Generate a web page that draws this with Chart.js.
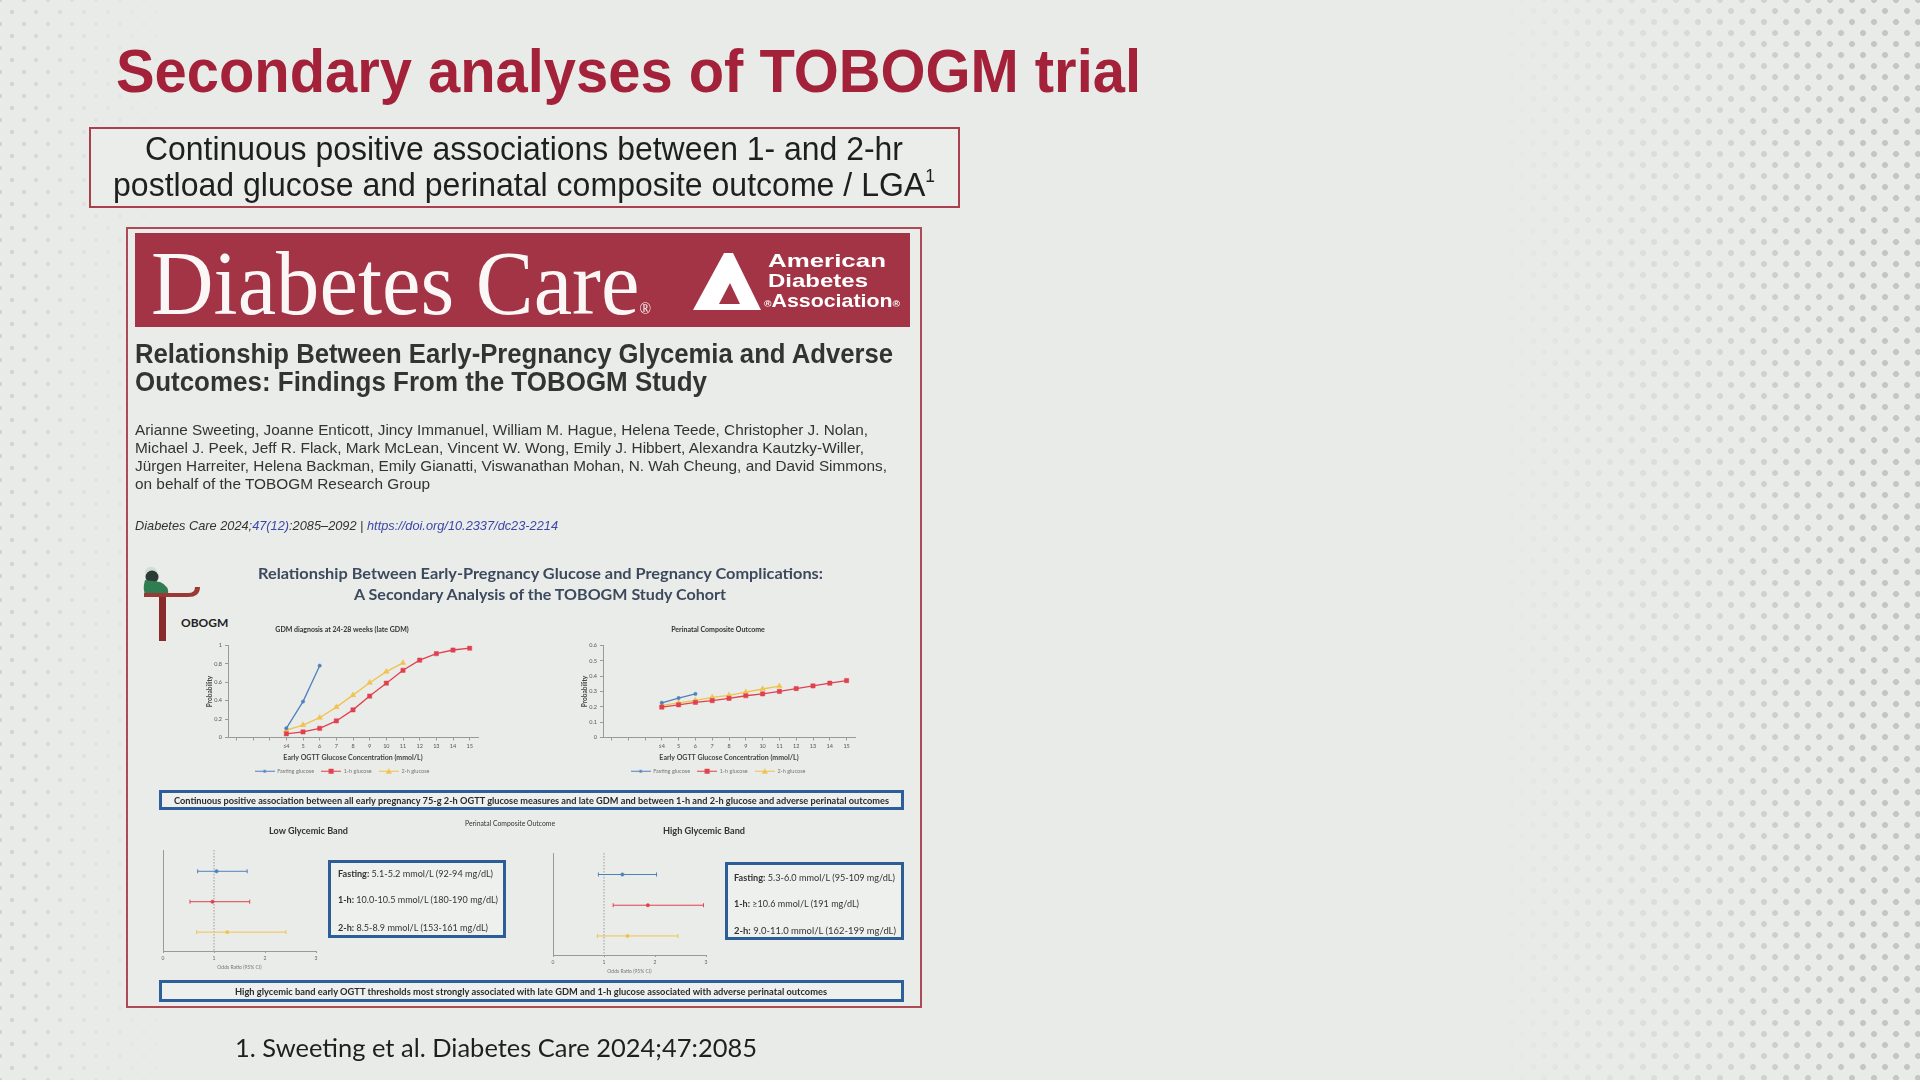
<!DOCTYPE html>
<html>
<head>
<meta charset="utf-8">
<script src="https://cdn.jsdelivr.net/npm/chart.js@4.4.1/dist/chart.umd.min.js"></script>
<style>
  html, body { margin: 0; padding: 0; }
  body { width: 1920px; height: 1080px; position: relative; overflow: hidden; background: #e8ebe7; font-family: "Liberation Sans", Arial, sans-serif; }
  .abs { position: absolute; white-space: nowrap; transform-origin: 0 50%; line-height: 1; }
  .dots { position: absolute; top: 0; height: 1080px; }
  #dotsL { left: 0; width: 170px;
    background-image: radial-gradient(circle, #c9ccc9 1.8px, transparent 2.4px), radial-gradient(circle, #c9ccc9 1.8px, transparent 2.4px);
    background-size: 24px 24px; background-position: 0 0, 12px 12px;
    -webkit-mask-image: linear-gradient(to right, rgba(0,0,0,0.8), rgba(0,0,0,0.2) 60%, transparent); mask-image: linear-gradient(to right, rgba(0,0,0,0.8), rgba(0,0,0,0.2) 60%, transparent); }
  #dotsR { left: 1500px; width: 420px;
    background-image: radial-gradient(circle, #c3c6c3 2.6px, transparent 3.2px), radial-gradient(circle, #c3c6c3 2.6px, transparent 3.2px);
    background-size: 22px 22px; background-position: 0 0, 11px 11px;
    -webkit-mask-image: linear-gradient(to right, transparent, rgba(0,0,0,0.45) 45%, #000 85%); mask-image: linear-gradient(to right, transparent, rgba(0,0,0,0.45) 45%, #000 85%); }
  #title { left: 116px; top: 41px; font-size: 61px; font-weight: bold; color: #a3223a; }
  #subBox { position: absolute; left: 89px; top: 127px; width: 871px; height: 81px; box-sizing: border-box; border: 2px solid #a8404d; background: #ebedea; }
  .sub { font-size: 33px; color: #1f1f1f; }
  #article { position: absolute; left: 126px; top: 227px; width: 796px; height: 781px; box-sizing: border-box; border: 2px solid #ae4a55; background: #eaece9; }
  #banner { position: absolute; left: 135px; top: 233px; width: 775px; height: 94px; background: #a33446; }
  #dcare { left: 151px; top: 238px; font-family: "Liberation Serif", "DejaVu Serif", serif; font-size: 91px; color: #fbf7f7; }
  .ada { font-size: 19px; font-weight: bold; color: #fff; }
  .atitle { font-size: 27px; font-weight: bold; color: #333; }
  .auth { font-size: 15px; color: #333; }
  .cite { font-size: 13px; font-style: italic; color: #333; }
  .blue { color: #3b47a8; }
  .gh { font-family: Lato, sans-serif; font-size: 15px; font-weight: bold; color: #3d4a5d; }
  .strip { position: absolute; left: 159px; width: 745px; box-sizing: border-box; border: 3px solid #2f5f9a; background: #eef0ee; }
  .stxt { font-family: Lato, sans-serif; font-size: 9px; font-weight: bold; color: #2a2a2a; }
  .small { font-family: Lato, sans-serif; color: #333; }
  .info { position: absolute; box-sizing: border-box; border: 3.5px solid #2d5d97; background: #eef0ee; }
  .itxt { font-family: Lato, sans-serif; font-size: 9px; color: #333; }
  canvas { position: absolute; }
  #ref { left: 235px; top: 1035px; font-family: Lato, "Open Sans", sans-serif; font-size: 25px; color: #1f1f1f; }
</style>
</head>
<body>
<div id="dotsL" class="dots"></div>
<div id="dotsR" class="dots"></div>

<div id="title" class="abs" data-w="1025">Secondary analyses of TOBOGM trial</div>

<div id="subBox"></div>
<div class="abs sub" style="top:132px" data-w="758" data-cx="524">Continuous positive associations between 1- and 2-hr</div>
<div class="abs sub" style="top:167px" data-w="822" data-cx="524">postload glucose and perinatal composite outcome / LGA<sup style="font-size:18px;vertical-align:14px">1</sup></div>

<div id="article"></div>
<div id="banner"></div>
<div id="dcare" class="abs" data-w="500">Diabetes Care<span style="font-size:16px;vertical-align:0">®</span></div>
<svg style="position:absolute;left:693px;top:253px" width="68" height="58" viewBox="0 0 68 58">
  <polygon points="0,57 31,0 40,0 68,57" fill="#ffffff"/>
  <polygon points="26,51 37,30 47,51" fill="#a33446"/>
</svg>
<div class="abs ada" style="left:768px;top:251px" data-w="118">American</div>
<div class="abs ada" style="left:768px;top:271px" data-w="100">Diabetes</div>
<div class="abs ada" style="left:764px;top:291px" data-w="136"><span style="font-size:9px">®</span>Association<span style="font-size:9px">®</span></div>

<div class="abs atitle" style="left:135px;top:341px" data-w="758">Relationship Between Early-Pregnancy Glycemia and Adverse</div>
<div class="abs atitle" style="left:135px;top:369px" data-w="572">Outcomes: Findings From the TOBOGM Study</div>

<div class="abs auth" style="left:135px;top:422px" data-w="733">Arianne Sweeting, Joanne Enticott, Jincy Immanuel, William M. Hague, Helena Teede, Christopher J. Nolan,</div>
<div class="abs auth" style="left:135px;top:440px" data-w="729">Michael J. Peek, Jeff R. Flack, Mark McLean, Vincent W. Wong, Emily J. Hibbert, Alexandra Kautzky-Willer,</div>
<div class="abs auth" style="left:135px;top:458px" data-w="752">Jürgen Harreiter, Helena Backman, Emily Gianatti, Viswanathan Mohan, N. Wah Cheung, and David Simmons,</div>
<div class="abs auth" style="left:135px;top:476px" data-w="295">on behalf of the TOBOGM Research Group</div>

<div class="abs cite" style="left:135px;top:519px" data-w="423">Diabetes Care 2024;<span class="blue">47(12)</span>:2085–2092 | <span class="blue">https://doi.org/10.2337/dc23-2214</span></div>

<svg style="position:absolute;left:140px;top:566px" width="90" height="76" viewBox="0 0 90 76">
  <ellipse cx="11" cy="6" rx="6" ry="5" fill="#d3dcd6"/>
  <circle cx="12" cy="11" r="6.5" fill="#2c3b36"/>
  <path d="M5 14 Q2 24 6 30 L28 30 Q30 20 20 16 Z" fill="#2f7d50"/>
  <path d="M4 31 L48 31 Q60 31 60 21 L55 21 Q55 27 48 27 L4 27 Z" fill="#9a3a34"/>
  <rect x="19" y="31" width="7" height="44" fill="#8a2b2b"/>
</svg>
<div class="abs" style="left:181px;top:617px;font-family:Lato,sans-serif;font-size:12px;font-weight:bold;color:#222">OBOGM</div>

<div class="abs gh" style="top:566px" data-w="565" data-cx="540">Relationship Between Early-Pregnancy Glucose and Pregnancy Complications:</div>
<div class="abs gh" style="top:587px" data-w="372" data-cx="540">A Secondary Analysis of the TOBOGM Study Cohort</div>

<canvas id="gdmChart" width="290" height="166" style="left:195px;top:618px;width:290px;height:166px"></canvas>
<canvas id="pcoChart" width="292" height="166" style="left:570px;top:618px;width:292px;height:166px"></canvas>

<div class="strip" style="top:790px;height:20px"></div>
<div class="abs stxt" style="top:796px" data-w="715" data-cx="531">Continuous positive association between all early pregnancy 75-g 2-h OGTT glucose measures and late GDM and between 1-h and 2-h glucose and adverse perinatal outcomes</div>

<div class="abs small" style="top:820px;font-size:7px" data-w="90" data-cx="510">Perinatal Composite Outcome</div>
<div class="abs small" style="top:827px;font-size:8.5px;font-weight:bold" data-w="79" data-cx="308">Low Glycemic Band</div>
<div class="abs small" style="top:827px;font-size:8.5px;font-weight:bold" data-w="82" data-cx="704">High Glycemic Band</div>

<canvas id="lowChart" width="170" height="125" style="left:155px;top:845px;width:170px;height:125px"></canvas>
<canvas id="highChart" width="170" height="126" style="left:545px;top:848px;width:170px;height:126px"></canvas>

<div class="info" style="left:328px;top:860px;width:178px;height:78px"></div>
<div class="abs itxt" style="left:338px;top:869px" data-w="155"><b>Fasting:</b> 5.1-5.2 mmol/L (92-94 mg/dL)</div>
<div class="abs itxt" style="left:338px;top:895px" data-w="160"><b>1-h:</b> 10.0-10.5 mmol/L (180-190 mg/dL)</div>
<div class="abs itxt" style="left:338px;top:923px" data-w="150"><b>2-h:</b> 8.5-8.9 mmol/L (153-161 mg/dL)</div>

<div class="info" style="left:725px;top:862px;width:179px;height:78px"></div>
<div class="abs itxt" style="left:734px;top:873px" data-w="161"><b>Fasting:</b> 5.3-6.0 mmol/L (95-109 mg/dL)</div>
<div class="abs itxt" style="left:734px;top:899px" data-w="125"><b>1-h:</b> ≥10.6 mmol/L (191 mg/dL)</div>
<div class="abs itxt" style="left:734px;top:926px" data-w="162"><b>2-h:</b> 9.0-11.0 mmol/L (162-199 mg/dL)</div>

<div class="strip" style="top:980px;height:22px"></div>
<div class="abs stxt" style="top:987px" data-w="592" data-cx="531">High glycemic band early OGTT thresholds most strongly associated with late GDM and 1-h glucose associated with adverse perinatal outcomes</div>

<div id="ref" class="abs" data-w="522">1. Sweeting et al. Diabetes Care 2024;47:2085</div>

<script>
// valeurs
var glucoseLevels = ['', '', '', '≤4', '5', '6', '7', '8', '9', '10', '11', '12', '13', '14', '15'];
var seriesNames = ['Fasting glucose', '1-h glucose', '2-h glucose'];

var gdmFasting = [null, null, null, 0.10, 0.39, 0.78, null, null, null, null, null, null, null, null, null];
var gdm1h = [null, null, null, 0.04, 0.06, 0.10, 0.18, 0.30, 0.45, 0.59, 0.73, 0.84, 0.91, 0.95, 0.97];
var gdm2h = [null, null, null, 0.08, 0.135, 0.215, 0.33, 0.46, 0.595, 0.715, 0.81, null, null, null, null];

var pcoFasting = [null, null, null, 0.226, 0.257, 0.284, null, null, null, null, null, null, null, null, null];
var pco1h = [null, null, null, 0.198, 0.213, 0.229, 0.24, 0.255, 0.272, 0.284, 0.30, 0.319, 0.336, 0.354, 0.371];
var pco2h = [null, null, null, 0.209, 0.226, 0.242, 0.262, 0.275, 0.295, 0.316, 0.334, null, null, null, null];

var measures = ['Fasting', '1-h', '2-h'];
var lowOR = [1.05, 0.97, 1.26];
var lowLo = [0.68, 0.53, 0.66];
var lowHi = [1.65, 1.70, 2.41];
var highOR = [1.36, 1.86, 1.46];
var highLo = [0.89, 1.18, 0.87];
var highHi = [2.03, 2.95, 2.45];
var orTicks = [0, 1, 2, 3];
var orRef = 1;

var colors = ['#4f81bd', '#e0414f', '#f0c24e'];
var markers = ['circle', 'rect', 'triangle'];
var markerSize = [1.7, 3, 3.2];

Chart.defaults.font.family = 'Lato';
Chart.defaults.color = '#555';

// petite icone trait + marqueur pour la légende
function legendIcon(i) {
  var c = document.createElement('canvas');
  c.width = 20; c.height = 7;
  var g = c.getContext('2d');
  g.strokeStyle = colors[i]; g.fillStyle = colors[i]; g.lineWidth = 1;
  g.beginPath(); g.moveTo(0, 3.5); g.lineTo(20, 3.5); g.stroke();
  g.beginPath();
  if (markers[i] == 'rect') g.rect(7.5, 1, 5, 5);
  else if (markers[i] == 'triangle') { g.moveTo(10, 0.5); g.lineTo(13, 6); g.lineTo(7, 6); g.closePath(); }
  else g.arc(10, 3.5, 1.6, 0, Math.PI * 2);
  g.fill();
  return c;
}
var icons = [legendIcon(0), legendIcon(1), legendIcon(2)];

function lineChart(id, title, series, yMax, yStep) {
  var ds = [];
  for (var i = 0; i < series.length; i++) {
    ds.push({
      label: seriesNames[i], data: series[i],
      borderColor: colors[i], backgroundColor: colors[i],
      borderWidth: 1.3, pointStyle: markers[i], pointRadius: markerSize[i],
      pointBorderWidth: 0.5, tension: 0
    });
  }
  new Chart(document.getElementById(id), {
    type: 'line',
    data: { labels: glucoseLevels, datasets: ds },
    options: {
      responsive: false, animation: false,
      layout: { padding: { left: 11, right: 7, top: 0, bottom: 0 } },
      plugins: {
        title: { display: true, text: title, color: '#333', font: { size: 7, weight: 'bold' }, padding: { top: 8, bottom: 11 } },
        legend: {
          position: 'bottom',
          labels: {
            usePointStyle: true, pointStyleWidth: 20, boxHeight: 6, font: { size: 5.5 }, color: '#777', padding: 7,
            generateLabels: function (chart) {
              var items = Chart.defaults.plugins.legend.labels.generateLabels(chart);
              items.forEach(function (it, k) { it.pointStyle = icons[k]; });
              return items;
            }
          }
        },
        tooltip: { enabled: false }
      },
      scales: {
        x: {
          offset: true,
          grid: { drawOnChartArea: false, offset: false, tickLength: 3, color: '#9a9a9a' },
          border: { color: '#9a9a9a' },
          ticks: { font: { size: 5.5 }, color: '#555', padding: 2, maxRotation: 0, autoSkip: false },
          title: { display: true, text: 'Early OGTT Glucose Concentration (mmol/L)', color: '#444', font: { size: 7, weight: 'bold' }, padding: { top: 2, bottom: 0 } }
        },
        y: {
          min: 0, max: yMax,
          grid: { drawOnChartArea: false, tickLength: 3, color: '#9a9a9a' },
          border: { color: '#9a9a9a' },
          ticks: { stepSize: yStep, font: { size: 5.5 }, color: '#555', padding: 3,
            callback: function (v) { return String(+v.toFixed(2)); } },
          title: { display: true, text: 'Probability', color: '#444', font: { size: 6.5, weight: 'bold' }, padding: 0 },
          afterFit: function (s) { s.width = 22; }
        }
      }
    }
  });
}

lineChart('gdmChart', 'GDM diagnosis at 24-28 weeks (late GDM)', [gdmFasting, gdm1h, gdm2h], 1, 0.2);
lineChart('pcoChart', 'Perinatal Composite Outcome', [pcoFasting, pco1h, pco2h], 0.6, 0.1);

// trait pointillé vertical à OR = 1, sur toute la hauteur du graphe
var refLinePlugin = {
  id: 'refLine',
  beforeDatasetsDraw: function (chart) {
    var x = chart.scales.x.getPixelForValue(orRef);
    var a = chart.chartArea, ctx = chart.ctx;
    ctx.save();
    ctx.strokeStyle = '#8a8a8a'; ctx.lineWidth = 0.8; ctx.setLineDash([1.5, 1.5]);
    ctx.beginPath(); ctx.moveTo(x, a.top); ctx.lineTo(x, a.bottom); ctx.stroke();
    ctx.restore();
  }
};

function forestChart(id, est, lo, hi) {
  var ds = [];
  for (var i = 0; i < measures.length; i++) {
    ds.push({
      type: 'line', data: [{ x: lo[i], y: i }, { x: hi[i], y: i }],
      borderColor: colors[i], borderWidth: 1, pointStyle: 'line', rotation: 90,
      pointRadius: 2, pointBorderWidth: 1, pointBorderColor: colors[i]
    });
  }
  var pts = [];
  for (var j = 0; j < measures.length; j++) pts.push({ x: est[j], y: j });
  ds.push({ type: 'scatter', data: pts, pointStyle: 'circle', pointRadius: 1.7, backgroundColor: colors, borderColor: colors, borderWidth: 0.5 });
  new Chart(document.getElementById(id), {
    type: 'scatter',
    data: { datasets: ds },
    plugins: [refLinePlugin],
    options: {
      responsive: false, animation: false,
      layout: { padding: { left: 8, right: 9, top: 4, bottom: 0 } },
      plugins: { legend: { display: false }, tooltip: { enabled: false } },
      scales: {
        x: {
          type: 'linear', min: orTicks[0], max: orTicks[orTicks.length - 1],
          afterBuildTicks: function (s) { s.ticks = orTicks.map(function (v) { return { value: v }; }); },
          grid: { drawOnChartArea: false, tickLength: 2, color: '#9a9a9a' },
          border: { color: '#9a9a9a' },
          ticks: { font: { size: 5 }, color: '#666', padding: 2 },
          title: { display: true, text: 'Odds Ratio (95% CI)', color: '#777', font: { size: 5 }, padding: { top: 1, bottom: 0 } }
        },
        y: {
          type: 'linear', reverse: true, min: -0.7, max: measures.length - 0.38,
          grid: { drawOnChartArea: false, drawTicks: false },
          border: { color: '#9a9a9a' },
          ticks: { display: false },
          afterFit: function (s) { s.width = 0; }
        }
      }
    }
  });
}

forestChart('lowChart', lowOR, lowLo, lowHi);
forestChart('highChart', highOR, highLo, highHi);

function fitText() {
  var els = document.querySelectorAll('[data-w]');
  for (var i = 0; i < els.length; i++) {
    var el = els[i];
    el.style.transform = 'none';
    var w = el.getBoundingClientRect().width;
    var target = parseFloat(el.dataset.w);
    el.style.transform = 'scaleX(' + (target / w) + ')';
    if (el.dataset.cx) el.style.left = (parseFloat(el.dataset.cx) - target / 2) + 'px';
  }
}
fitText();
document.fonts.ready.then(fitText);
</script>
</body>
</html>
